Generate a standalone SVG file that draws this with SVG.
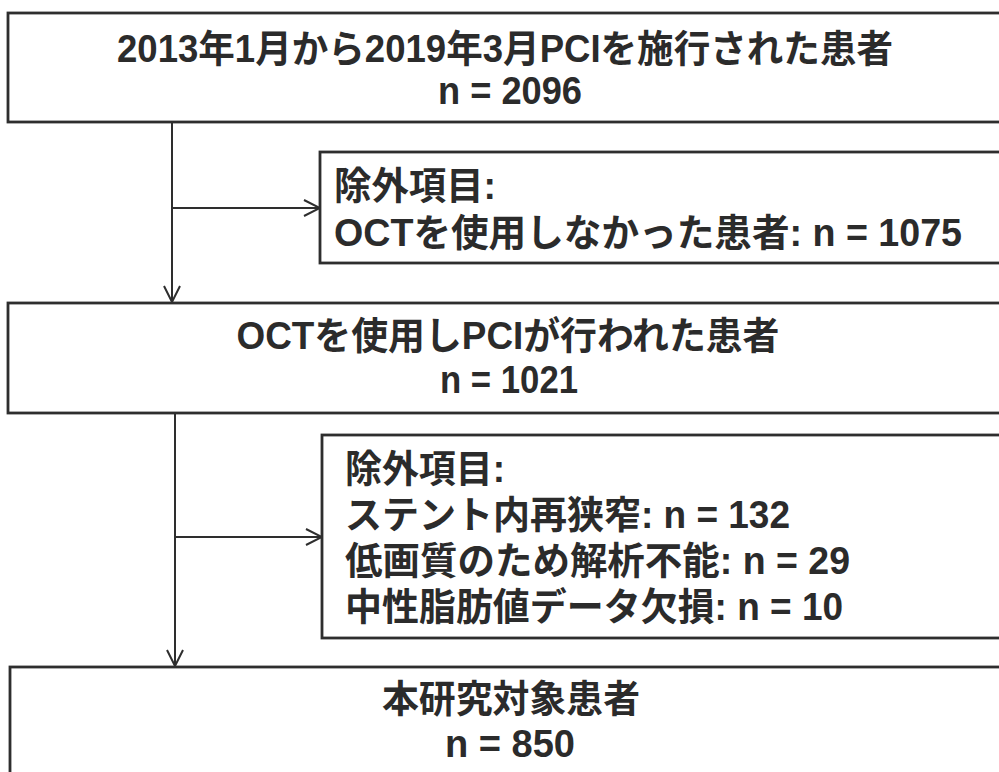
<svg xmlns="http://www.w3.org/2000/svg" width="999" height="772" viewBox="0 0 999 772">
<defs>
<style>
.box{fill:#fff;stroke:#2e2e2e;stroke-width:2.8}
.t{font-family:"Liberation Sans","Noto Sans CJK JP",sans-serif;font-weight:bold;font-size:38px;fill:#2b2b2b}
.c{text-anchor:middle}
.ln{fill:none;stroke:#2e2e2e;stroke-width:2}
</style>
<marker id="ah" viewBox="0 0 20 20" refX="19" refY="10" markerWidth="20" markerHeight="20" markerUnits="userSpaceOnUse" orient="auto">
<path d="M3,2 L19,10 L3,18" fill="none" stroke="#2e2e2e" stroke-width="2"/>
</marker>
</defs>
<rect width="999" height="772" fill="#fff"/>
<g id="connectors">
<line class="ln" x1="172" y1="122" x2="172" y2="302" marker-end="url(#ah)"/>
<line class="ln" x1="172" y1="208" x2="320" y2="208" marker-end="url(#ah)"/>
<line class="ln" x1="175" y1="413" x2="175" y2="666" marker-end="url(#ah)"/>
<line class="ln" x1="175" y1="537" x2="322" y2="537" marker-end="url(#ah)"/>
</g>
<g id="n1">
<rect class="box" x="8" y="13" width="1010" height="109"/>
<text class="t c" x="505" y="62" textLength="776" lengthAdjust="spacingAndGlyphs">2013年1月から2019年3月PCIを施行された患者</text>
<text class="t c" x="510" y="104" textLength="144" lengthAdjust="spacingAndGlyphs">n = 2096</text>
</g>
<g id="n2">
<rect class="box" x="320" y="152" width="700" height="111"/>
<text class="t" x="334" y="199" textLength="162" lengthAdjust="spacingAndGlyphs">除外項目:</text>
<text class="t" x="334" y="246" textLength="628" lengthAdjust="spacingAndGlyphs">OCTを使用しなかった患者: n = 1075</text>
</g>
<g id="n3">
<rect class="box" x="8" y="303" width="1010" height="110"/>
<text class="t c" x="508" y="349" textLength="543" lengthAdjust="spacingAndGlyphs">OCTを使用しPCIが行われた患者</text>
<text class="t c" x="509" y="393" textLength="138" lengthAdjust="spacingAndGlyphs">n = 1021</text>
</g>
<g id="n4">
<rect class="box" x="322" y="435" width="700" height="203"/>
<text class="t" x="345" y="482" textLength="160" lengthAdjust="spacingAndGlyphs">除外項目:</text>
<text class="t" x="345" y="528" textLength="445" lengthAdjust="spacingAndGlyphs">ステント内再狭窄: n = 132</text>
<text class="t" x="345" y="574" textLength="505" lengthAdjust="spacingAndGlyphs">低画質のため解析不能: n = 29</text>
<text class="t" x="345" y="620" textLength="498" lengthAdjust="spacingAndGlyphs">中性脂肪値データ欠損: n = 10</text>
</g>
<g id="n5">
<rect class="box" x="10" y="667" width="1010" height="120"/>
<text class="t c" x="511" y="712" textLength="258" lengthAdjust="spacingAndGlyphs">本研究対象患者</text>
<text class="t c" x="510" y="757" textLength="130" lengthAdjust="spacingAndGlyphs">n = 850</text>
</g>
</svg>
